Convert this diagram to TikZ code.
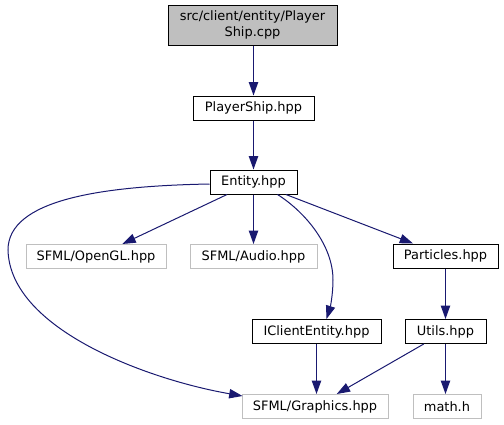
\documentclass[tikz,border=0pt]{standalone}
\usepackage{fontspec}
\setmainfont{DejaVu Sans}
\usetikzlibrary{arrows.meta}
\definecolor{edgeblue}{HTML}{191970}
\definecolor{extgray}{HTML}{BFBFBF}
\tikzset{
  box/.style={draw=black, line width=0.75pt, rectangle, inner sep=0pt, minimum height=24*0.75pt, font=\fontsize{9.7}{11.5}\selectfont, text=black},
  extbox/.style={box, draw=extgray},
  rootbox/.style={box, fill=extgray, minimum height=40*0.75pt, align=center},
  dep/.style={draw=edgeblue, line width=0.75pt, -{Triangle[length=10pt, width=7pt]}, edgeblue}
}
\begin{document}
\begin{tikzpicture}[x=0.75pt, y=-0.75pt]
\useasboundingbox (0,0) rectangle (504,425);
\node[rootbox, minimum width=169*0.75pt] (top) at (252.5,25) {src/client/entity/Player\\Ship.cpp};
\node[box, minimum width=121*0.75pt] (ps) at (253.5,108) {PlayerShip.hpp};
\node[box, minimum width=87*0.75pt] (ent) at (253.5,182) {Entity.hpp};
\node[extbox, minimum width=140*0.75pt] (gl) at (96,256.5) {SFML/OpenGL.hpp};
\node[extbox, minimum width=127*0.75pt] (au) at (253.5,256.5) {SFML/Audio.hpp};
\node[box, minimum width=105*0.75pt] (pa) at (445.5,256) {Particles.hpp};
\node[box, minimum width=129*0.75pt] (ic) at (316.5,331.5) {IClientEntity.hpp};
\node[box, minimum width=81*0.75pt] (ut) at (445.5,331.5) {Utils.hpp};
\node[extbox, minimum width=146*0.75pt] (gr) at (315,406.5) {SFML/Graphics.hpp};
\node[extbox, minimum width=68*0.75pt] (ma) at (447,406.5) {math.h};

\draw[dep] (top.south -| ps.north) -- (ps.north);
\draw[dep] (ps) -- (ent);
\draw[dep] (ent) -- (gl);
\draw[dep] (ent.south) -- (au.north);
\draw[dep] (ent) -- (pa);
\draw[dep] ([yshift=-2*0.75pt]ent.west) .. controls (100,186) and (8,200) .. (8,250)
  .. controls (10,330) and (150,380) .. ([shift={(1*0.75pt,-2*0.75pt)}]gr.north west);
\draw[dep] ([xshift=-20*0.75pt]ent.south east) .. controls (305,212) and (333,245) .. (333,280)
  .. controls (333,295) and (330,308) .. ([xshift=10*0.75pt]ic.north);
\draw[dep] (ic.south) -- (ic.south |- gr.north);
\draw[dep] (pa) -- (ut);
\draw[dep] (ut) -- (gr);
\draw[dep] (ut.south) -- (ut.south |- ma.north);
\end{tikzpicture}
\end{document}
